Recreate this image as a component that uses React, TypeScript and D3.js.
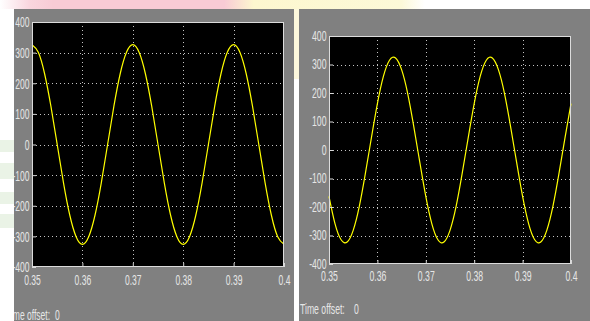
import React, { useEffect, useRef } from 'react';
import * as d3 from 'd3';

// sample instants (s)
const sampleTimes = [
  0.35, 0.35125, 0.3525, 0.35375, 0.355, 0.35625, 0.3575, 0.35875, 0.36, 0.36125, 0.3625,
  0.36375, 0.365, 0.36625, 0.3675, 0.36875, 0.37, 0.37125, 0.3725, 0.37375, 0.375, 0.37625,
  0.3775, 0.37875, 0.38, 0.38125, 0.3825, 0.38375, 0.385, 0.38625, 0.3875, 0.38875, 0.39,
  0.39125, 0.3925, 0.39375, 0.395, 0.39625, 0.3975, 0.39875, 0.4,
];

// left scope voltage (V)
const voltageA = [
  326, 301, 231, 125, 0, -125, -231, -301, -326, -301, -231, -125, 0, 125, 231, 301,
  326, 301, 231, 125, 0, -125, -231, -301, -326, -301, -231, -125, 0, 125, 231, 301,
  326, 301, 231, 125, 0, -125, -231, -301, -326,
];

// right scope voltage (V)
const voltageB = [
  -163, -259, -315, -323, -282, -199, -84, 42, 163, 259, 315, 323, 282, 199, 84, -42,
  -163, -259, -315, -323, -282, -199, -84, 42, 163, 259, 315, 323, 282, 199, 84, -42,
  -163, -259, -315, -323, -282, -199, -84, 42, 163,
];

const xTicks = [0.35, 0.36, 0.37, 0.38, 0.39, 0.4];
const xTickLabels = ['0.35', '0.36', '0.37', '0.38', '0.39', '0.4'];
const yTicks = [-400, -300, -200, -100, 0, 100, 200, 300, 400];
const yTickLabels = ['-400', '-300', '-200', '-100', '0', '100', '200', '300', '400'];

type Scope = {
  id: string;
  panel: { x: number; y: number; w: number; h: number };
  plot: { l: number; t: number; r: number; b: number };
  font: number;
  squeeze: number;
  pad: number;
  values: number[];
  offsetX: number;
  offsetValueX: number;
  offsetY: number;
};

const scopes: Scope[] = [
  {
    id: 'a',
    panel: { x: 14, y: 9, w: 280, h: 312 },
    plot: { l: 32, t: 22, r: 284, b: 267 },
    font: 15.5,
    squeeze: 0.55,
    pad: 7,
    values: voltageA,
    offsetX: 6,
    offsetValueX: 55,
    offsetY: 320,
  },
  {
    id: 'b',
    panel: { x: 299, y: 9, w: 291, h: 312 },
    plot: { l: 329, t: 36, r: 571, b: 264 },
    font: 14,
    squeeze: 0.62,
    pad: 7,
    values: voltageB,
    offsetX: 300,
    offsetValueX: 354,
    offsetY: 314,
  },
];

const TEXT = '#e6e6e6';
const FONT = '"Liberation Sans", Arial, sans-serif';

const App = () => {
  const ref = useRef<SVGSVGElement>(null);

  useEffect(() => {
    const svg = d3.select(ref.current).attr('width', 590).attr('height', 321);
    svg.selectAll('*').remove();

    // slide background behind the screenshots
    const defs = svg.append('defs');
    const grad = defs.append('linearGradient').attr('id', 'band');
    [
      ['0%', '#ffffff'],
      ['5%', '#f9d6de'],
      ['9%', '#f8cbd5'],
      ['38%', '#f8cbd5'],
      ['43%', '#fdf7cf'],
      ['68%', '#fcf9d8'],
      ['72%', '#ffffff'],
      ['100%', '#ffffff'],
    ].forEach(([o, c]) => grad.append('stop').attr('offset', o).attr('stop-color', c));

    svg.append('rect').attr('width', 590).attr('height', 321).attr('fill', '#ffffff');
    svg.append('rect').attr('width', 590).attr('height', 9).attr('fill', 'url(#band)');
    [[140, 12], [163, 16], [192, 12], [214, 14]].forEach(([y, h]) =>
      svg.append('rect').attr('x', 0).attr('y', y).attr('width', 14).attr('height', h).attr('fill', '#eaf3e6')
    );
    svg.append('rect').attr('x', 294).attr('y', 9).attr('width', 5).attr('height', 70).attr('fill', '#fdf8dc');

    scopes.forEach((s) => {
      const { panel, plot } = s;
      defs
        .append('clipPath')
        .attr('id', `clip-${s.id}`)
        .append('rect')
        .attr('x', panel.x)
        .attr('y', panel.y)
        .attr('width', panel.w)
        .attr('height', panel.h);

      const g = svg.append('g').attr('clip-path', `url(#clip-${s.id})`);
      g.append('rect')
        .attr('x', panel.x)
        .attr('y', panel.y)
        .attr('width', panel.w)
        .attr('height', panel.h)
        .attr('fill', '#808080');

      const x = d3.scaleLinear().domain([0.35, 0.4]).range([plot.l, plot.r]);
      const y = d3.scaleLinear().domain([-400, 400]).range([plot.b, plot.t]);

      g.append('rect')
        .attr('x', plot.l)
        .attr('y', plot.t)
        .attr('width', plot.r - plot.l)
        .attr('height', plot.b - plot.t)
        .attr('fill', '#000000');

      // dotted grid
      g.selectAll('.vgrid')
        .data(xTicks.slice(1, -1))
        .enter()
        .append('line')
        .attr('x1', (d) => Math.round(x(d)) + 0.5)
        .attr('x2', (d) => Math.round(x(d)) + 0.5)
        .attr('y1', plot.t)
        .attr('y2', plot.b)
        .attr('stroke', '#c4c4c4')
        .attr('stroke-dasharray', '1,3');
      g.selectAll('.hgrid')
        .data(yTicks.slice(1, -1))
        .enter()
        .append('line')
        .attr('y1', (d) => Math.round(y(d)) + 0.5)
        .attr('y2', (d) => Math.round(y(d)) + 0.5)
        .attr('x1', plot.l)
        .attr('x2', plot.r)
        .attr('stroke', '#c4c4c4')
        .attr('stroke-dasharray', '1,3');

      // trace
      const line = d3
        .line<number>()
        .x((_, i) => x(sampleTimes[i]))
        .y((d) => y(d))
        .curve(d3.curveNatural);
      g.append('path')
        .attr('d', line(s.values))
        .attr('fill', 'none')
        .attr('stroke', '#ffff00')
        .attr('stroke-width', 1.2);

      // axes
      const xAxis = g
        .append('g')
        .attr('transform', `translate(0,${plot.b})`)
        .call(
          d3
            .axisBottom(x)
            .tickValues(xTicks)
            .tickFormat((_, i) => xTickLabels[i])
            .tickSizeInner(-4)
            .tickSizeOuter(0)
            .tickPadding(s.pad)
        );
      const yAxis = g
        .append('g')
        .attr('transform', `translate(${plot.l},0)`)
        .call(
          d3
            .axisLeft(y)
            .tickValues(yTicks)
            .tickFormat((_, i) => yTickLabels[i])
            .tickSizeInner(-4)
            .tickSizeOuter(0)
        );
      [xAxis, yAxis].forEach((a) => {
        a.select('.domain').remove();
        a.selectAll('line').attr('stroke', '#d8d8d8');
        a.selectAll('text')
          .attr('fill', TEXT)
          .style('font-family', FONT)
          .style('font-size', `${s.font}px`)
          .attr('transform', `scale(${s.squeeze},1)`);
      });
      yAxis.selectAll('text').attr('x', -2.5 / s.squeeze);

      g.append('rect')
        .attr('x', plot.l + 0.5)
        .attr('y', plot.t + 0.5)
        .attr('width', plot.r - plot.l - 1)
        .attr('height', plot.b - plot.t - 1)
        .attr('fill', 'none')
        .attr('stroke', '#dcdcdc');

      // time offset caption
      g.append('text')
        .attr('transform', `translate(${s.offsetX},${s.offsetY}) scale(${s.squeeze},1)`)
        .attr('fill', TEXT)
        .style('font-family', FONT)
        .style('font-size', `${s.font}px`)
        .text('Time offset:');
      g.append('text')
        .attr('transform', `translate(${s.offsetValueX},${s.offsetY}) scale(${s.squeeze},1)`)
        .attr('fill', TEXT)
        .style('font-family', FONT)
        .style('font-size', `${s.font}px`)
        .text('0');
    });
  }, []);

  return <svg ref={ref} style={{ position: 'absolute', left: 0, top: 0 }}></svg>;
};

export default App;
